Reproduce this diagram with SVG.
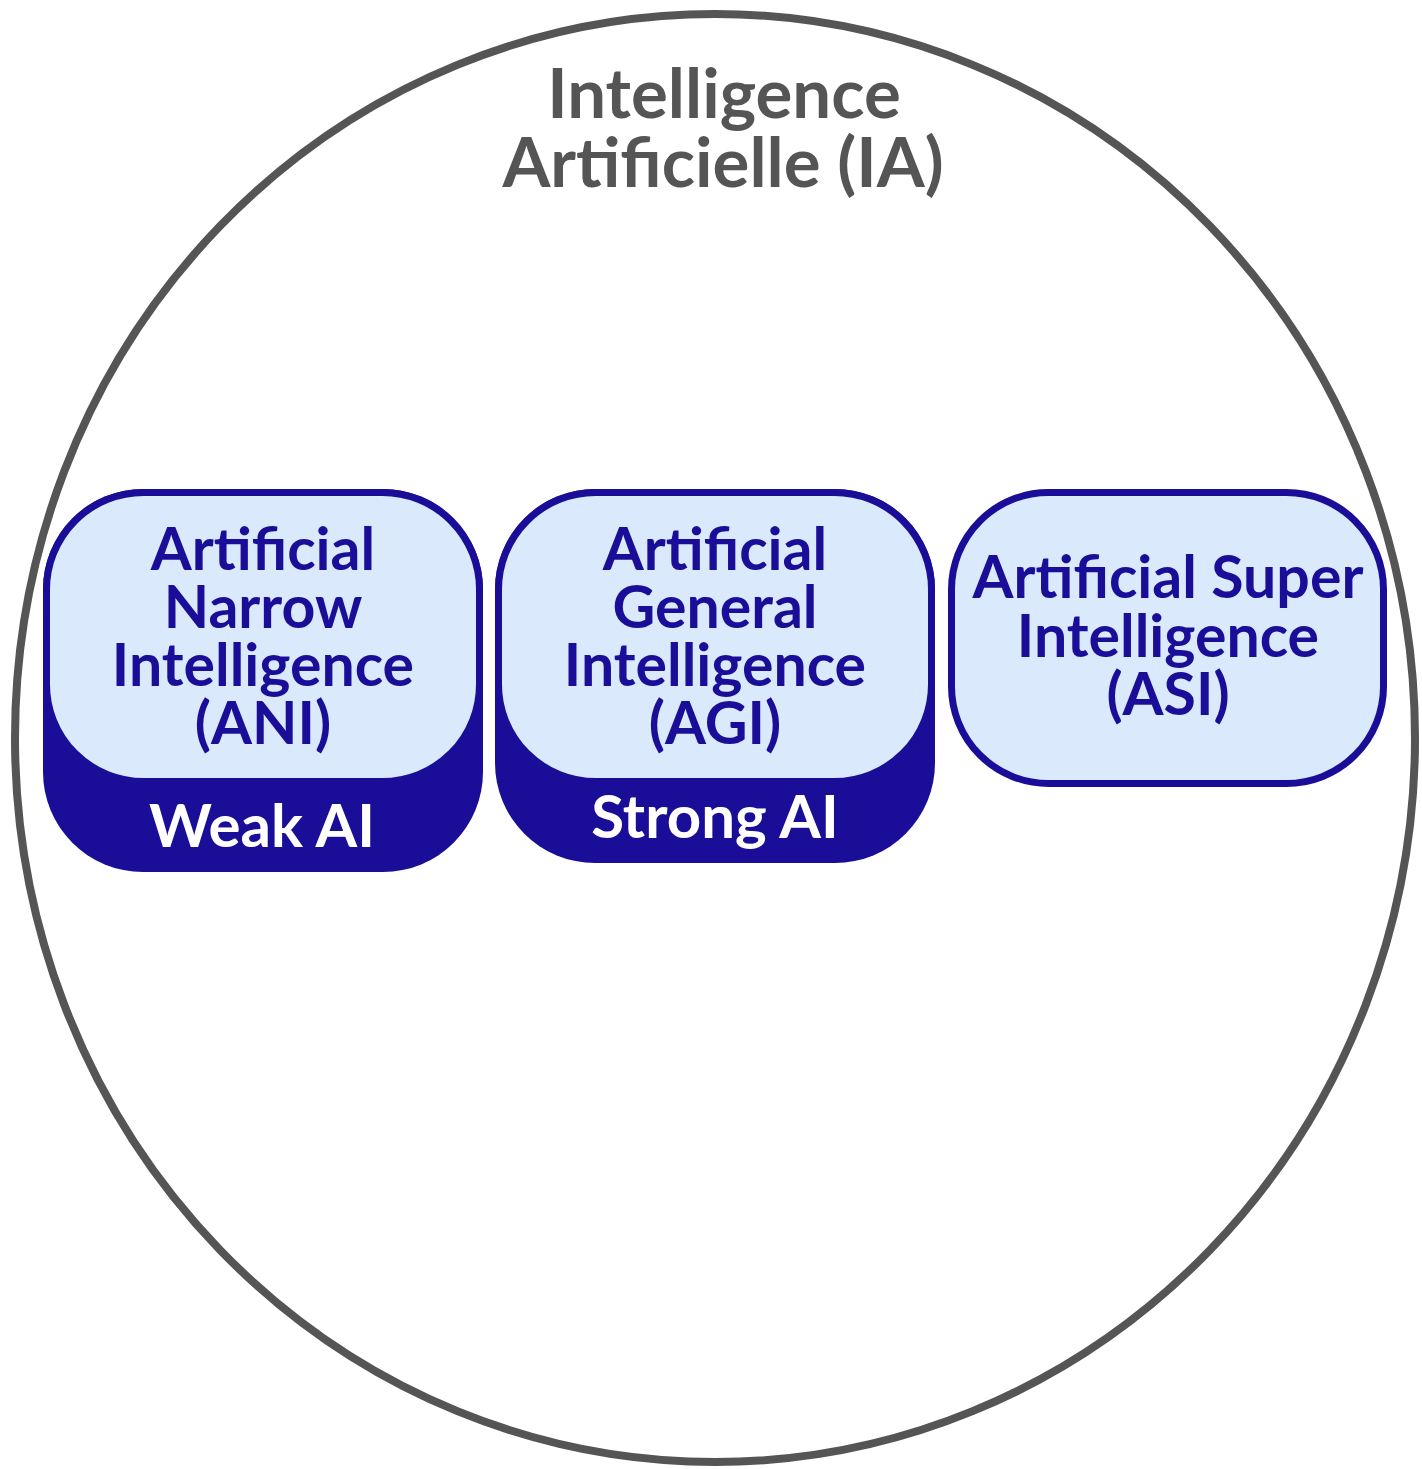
<svg xmlns="http://www.w3.org/2000/svg" width="1422" height="1469" viewBox="0 0 1422 1469">
<style>
.t{font-family:"Lato","Noto Sans","Liberation Sans",sans-serif;font-weight:bold;text-anchor:middle}
.box{fill:#dae9fc;stroke:#1a0e99;stroke-width:7}
.base{fill:#1a0e99}
.bt{fill:#1a0e99;font-size:59px}
.wt{fill:#ffffff;font-size:60px}
</style>
<rect width="1422" height="1469" fill="#ffffff"/>
<g id="ia">
<ellipse cx="715" cy="738" rx="700" ry="724" fill="none" stroke="#555555" stroke-width="8"/>
<text class="t" x="724" y="118" fill="#555555" font-size="69">Intelligence</text>
<text class="t" x="723" y="187" fill="#555555" font-size="69">Artificielle (IA)</text>
</g>
<g id="ani">
<rect class="base" x="43" y="489" width="440" height="383" rx="100"/>
<rect class="box" x="46.5" y="492.5" width="433" height="289" rx="97"/>
<text class="t bt" x="263" y="570">Artificial</text>
<text class="t bt" x="263" y="628">Narrow</text>
<text class="t bt" x="263" y="686">Intelligence</text>
<text class="t bt" x="263" y="744">(ANI)</text>
<text class="t wt" x="262" y="847">Weak AI</text>
</g>
<g id="agi">
<rect class="base" x="495" y="489" width="440" height="374" rx="100"/>
<rect class="box" x="498.5" y="492.5" width="433" height="289" rx="97"/>
<text class="t bt" x="715" y="570">Artificial</text>
<text class="t bt" x="715" y="628">General</text>
<text class="t bt" x="715" y="686">Intelligence</text>
<text class="t bt" x="715" y="744">(AGI)</text>
<text class="t wt" x="715" y="838" font-size="64">Strong AI</text>
</g>
<g id="asi">
<rect class="box" x="951.5" y="492.5" width="432" height="291" rx="97"/>
<text class="t bt" x="1168" y="598">Artificial Super</text>
<text class="t bt" x="1168" y="657">Intelligence</text>
<text class="t bt" x="1168" y="715">(ASI)</text>
</g>
<g id="connectors"/>
</svg>
